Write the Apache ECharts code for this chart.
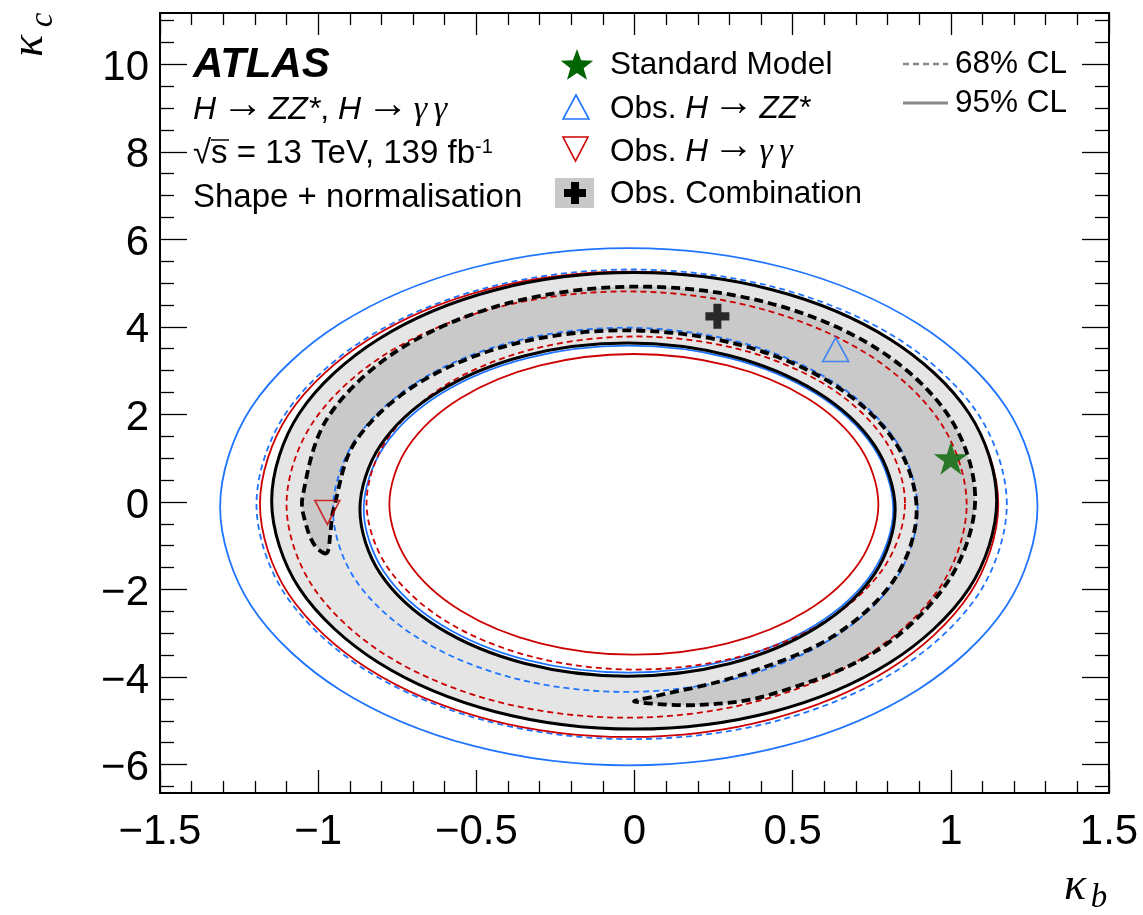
<!DOCTYPE html>
<html><head><meta charset="utf-8">
<script src="https://cdn.jsdelivr.net/npm/echarts@6/dist/echarts.min.js"></script>
<style>html,body{margin:0;padding:0;background:#fff}#c{width:1143px;height:915px}</style>
</head><body><div id="c"></div>
<script>
// ---------- axis ticks ----------
const xTicks = [-1.5, -1, -0.5, 0, 0.5, 1, 1.5];
const yTicks = [-6, -4, -2, 0, 2, 4, 6, 8, 10];
const yMinorTicks = [-6.5,-5.5,-5,-4.5,-3.5,-3,-2.5,-1.5,-1,-0.5,0.5,1,1.5,2.5,3,3.5,4.5,5,5.5,6.5,7,7.5,8.5,9,9.5,10.5,11];

// ---------- best-fit points ----------
const smPoint   = [1.0, 1.0];
const zzBest    = [0.636, 3.48];
const yyBest    = [-0.971, -0.24];
const combBest  = [0.262, 4.24];

// ---------- H->ZZ* contours (blue), [kappa_b, kappa_c] ----------
const zz95Outer = [[1.274,-0.110],[1.176,2.152],[0.896,4.069],[0.476,5.350],[-0.018,5.800],[-0.512,5.350],[-0.932,4.069],[-1.212,2.152],[-1.310,-0.110],[-1.212,-2.372],[-0.932,-4.289],[-0.512,-5.570],[-0.018,-6.020],[0.476,-5.570],[0.896,-4.289],[1.176,-2.372]];
const zz95Inner = [[0.818,-0.165],[0.754,1.264],[0.573,2.476],[0.301,3.286],[-0.019,3.570],[-0.339,3.286],[-0.611,2.476],[-0.792,1.264],[-0.856,-0.165],[-0.792,-1.594],[-0.611,-2.806],[-0.339,-3.616],[-0.019,-3.900],[0.301,-3.616],[0.573,-2.806],[0.754,-1.594]];
const zz68Outer = [[1.177,-0.055],[1.087,1.998],[0.830,3.739],[0.445,4.902],[-0.009,5.310],[-0.463,4.902],[-0.848,3.739],[-1.105,1.998],[-1.195,-0.055],[-1.105,-2.108],[-0.848,-3.849],[-0.463,-5.012],[-0.009,-5.420],[0.445,-5.012],[0.830,-3.849],[1.087,-2.108]];
const zz68Inner = [[0.895,-0.180],[0.825,1.412],[0.624,2.762],[0.325,3.663],[-0.029,3.980],[-0.383,3.663],[-0.682,2.762],[-0.883,1.412],[-0.953,-0.180],[-0.883,-1.772],[-0.682,-3.122],[-0.383,-4.023],[-0.029,-4.340],[0.325,-4.023],[0.624,-3.122],[0.825,-1.772]];

// ---------- H->gamma gamma contours (red) ----------
const yy95Outer = [[1.150,-0.055],[1.061,1.979],[0.808,3.703],[0.430,4.856],[-0.017,5.260],[-0.464,4.856],[-0.842,3.703],[-1.095,1.979],[-1.184,-0.055],[-1.095,-2.089],[-0.842,-3.813],[-0.464,-4.966],[-0.017,-5.370],[0.430,-4.966],[0.808,-3.813],[1.061,-2.089]];
const yy95Inner = [[0.771,-0.055],[0.712,1.260],[0.545,2.374],[0.294,3.119],[-0.002,3.380],[-0.298,3.119],[-0.549,2.374],[-0.716,1.260],[-0.775,-0.055],[-0.716,-1.370],[-0.549,-2.484],[-0.298,-3.229],[-0.002,-3.490],[0.294,-3.229],[0.545,-2.484],[0.712,-1.370]];
const yy68Outer = [[1.050,-0.060],[0.968,1.804],[0.735,3.384],[0.386,4.439],[-0.025,4.810],[-0.436,4.439],[-0.785,3.384],[-1.018,1.804],[-1.100,-0.060],[-1.018,-1.924],[-0.785,-3.504],[-0.436,-4.559],[-0.025,-4.930],[0.386,-4.559],[0.735,-3.504],[0.968,-1.924]];
const yy68Inner = [[0.855,-0.025],[0.790,1.431],[0.606,2.666],[0.330,3.490],[0.004,3.780],[-0.322,3.490],[-0.598,2.666],[-0.782,1.431],[-0.847,-0.025],[-0.782,-1.481],[-0.598,-2.716],[-0.322,-3.540],[0.004,-3.830],[0.330,-3.540],[0.606,-2.716],[0.790,-1.481]];

// ---------- combination contours (black) ----------
const comb95Outer = [[1.145,0.025],[1.058,2.021],[0.809,3.713],[0.438,4.843],[-0.001,5.240],[-0.440,4.843],[-0.811,3.713],[-1.060,2.021],[-1.147,0.025],[-1.060,-1.971],[-0.811,-3.663],[-0.440,-4.793],[-0.001,-5.190],[0.438,-4.793],[0.809,-3.663],[1.058,-1.971]];
const comb95Inner = [[0.824,-0.175],[0.760,1.281],[0.576,2.516],[0.302,3.340],[-0.022,3.630],[-0.346,3.340],[-0.620,2.516],[-0.804,1.281],[-0.868,-0.175],[-0.804,-1.631],[-0.620,-2.866],[-0.346,-3.690],[-0.022,-3.980],[0.302,-3.690],[0.576,-2.866],[0.760,-1.631]];
const comb68 = [[-0.973,-1.170],[-1.008,-1.020],[-1.036,-0.580],[-1.050,0.085],[-0.969,1.935],[-0.739,3.504],[-0.394,4.552],[0.014,4.920],[0.421,4.552],[0.766,3.504],[0.996,1.935],[1.077,0.085],[0.996,-1.765],[0.766,-3.400],[0.421,-4.420],[0.200,-4.640],[0.000,-4.560],[0.060,-4.450],[0.323,-3.987],[0.622,-3.096],[0.822,-1.763],[0.892,-0.190],[0.822,1.383],[0.622,2.716],[0.323,3.607],[-0.030,3.920],[-0.383,3.607],[-0.682,2.716],[-0.882,1.383],[-0.952,-0.190],[-0.962,-0.750]];

// ---------- styling ----------
const BLUE = '#1f74ff', RED = '#cc0000', GREEN = '#006400';
const LIGHT = '#e5e5e5', DARK = '#c9c9c9';
const FONT = '"Liberation Sans", Arial, Helvetica, sans-serif';
const SERIF = '"Liberation Serif", "DejaVu Serif", serif';
const fmt = v => String(v).replace('-', '\u2212');

function curve(name, pts, opt) {
  return {
    type: 'custom', name, coordinateSystem: 'cartesian2d', xAxisIndex: 0, yAxisIndex: 0,
    data: [[0, 0]], z: opt.z, silent: true, clip: true, animation: false,
    renderItem: (params, api) => {
      const style = { fill: opt.fill || 'none', stroke: opt.stroke || 'none', lineWidth: opt.width || 0 };
      if (opt.dash) style.lineDash = opt.dash;
      return { type: 'polygon', shape: { points: pts.map(p => api.coord(p)), smooth: opt.smooth == null ? 0.33 : opt.smooth }, style };
    }
  };
}

const STAR = 'path://M50,0 L61.2,34.5 L97.6,34.5 L68.2,55.9 L79.4,90.5 L50,69.1 L20.6,90.5 L31.8,55.9 L2.4,34.5 L38.8,34.5 Z';
const PLUS = 'path://M8,0 L16,0 L16,8 L24,8 L24,16 L16,16 L16,24 L8,24 L8,16 L0,16 L0,8 L8,8 Z';

function starPts(cx, cy, R, r) {
  const p = [];
  for (let i = 0; i < 10; i++) {
    const a = -Math.PI / 2 + i * Math.PI / 5, rr = i % 2 ? r : R;
    p.push([cx + rr * Math.cos(a), cy + rr * Math.sin(a)]);
  }
  return p;
}
function plusPts(cx, cy, s, t) {
  const h = s / 2, k = t / 2;
  return [[cx-k,cy-h],[cx+k,cy-h],[cx+k,cy-k],[cx+h,cy-k],[cx+h,cy+k],[cx+k,cy+k],[cx+k,cy+h],[cx-k,cy+h],[cx-k,cy+k],[cx-h,cy+k],[cx-h,cy-k],[cx-k,cy-k]];
}

const axisLine = { show: true, onZero: false, lineStyle: { color: '#000', width: 2 } };
const noLine = { show: false, onZero: false };
const tickStyle = { color: '#000', width: 1.3 };
const yMin = -6.65, yMax = 11.17;

function richSet(fs) {
  return {
    n: { fontSize: fs, fontFamily: FONT, fill: '#000' },
    p: { fontSize: Math.round(fs * 0.6), fontFamily: FONT, fill: '#000' },
    i: { fontSize: fs, fontFamily: FONT, fontStyle: 'italic', fill: '#000' },
    a: { fontSize: Math.round(fs * 1.3), fontFamily: FONT, fill: '#000', padding: [0, 0, 10, 0] },
    g: { fontSize: fs + 2, fontFamily: SERIF, fontStyle: 'italic', fill: '#000' },
    s: { fontSize: Math.round(fs * 0.62), fontFamily: FONT, fill: '#000', verticalAlign: 'top' }
  };
}
const text = (x, y, t, fs) => ({ type: 'text', x, y, z: 100, style: { text: t, fontSize: fs, fontFamily: FONT, fill: '#000', verticalAlign: 'middle', align: 'left', rich: richSet(fs) } });

const option = {
  animation: false,
  backgroundColor: '#fff',
  grid: { left: 160, right: 34, top: 13, bottom: 122, show: true, borderColor: '#000', borderWidth: 2, backgroundColor: 'transparent' },
  xAxis: [
    { type: 'value', position: 'bottom', min: -1.5, max: 1.5, interval: 0.5, axisLine,
      axisTick: { inside: true, length: 23, lineStyle: tickStyle },
      minorTick: { show: true, splitNumber: 5, length: 12, lineStyle: tickStyle },
      splitLine: { show: false }, minorSplitLine: { show: false },
      axisLabel: { fontSize: 42, color: '#000', fontFamily: FONT, margin: 18, showMinLabel: true, showMaxLabel: true, formatter: fmt } },
    { type: 'value', position: 'top', min: -1.5, max: 1.5, interval: 0.5, axisLine,
      axisTick: { inside: true, length: 22, lineStyle: tickStyle },
      minorTick: { show: true, splitNumber: 5, length: 12, lineStyle: tickStyle },
      splitLine: { show: false }, minorSplitLine: { show: false }, axisLabel: { show: false } }
  ],
  yAxis: [
    { type: 'value', position: 'left', min: yMin, max: yMax, axisLine,
      axisTick: { inside: true, length: 27, lineStyle: tickStyle, customValues: yTicks },
      splitLine: { show: false },
      axisLabel: { color: '#000', margin: 11, customValues: yTicks,
        formatter: v => '{v|' + fmt(v) + '}',
        rich: { v: { fontSize: 42, fontFamily: FONT, color: '#000', padding: [8, 0, 0, 0] } } } },
    { type: 'value', position: 'right', min: yMin, max: yMax, axisLine,
      axisTick: { inside: true, length: 27, lineStyle: tickStyle, customValues: yTicks },
      splitLine: { show: false }, axisLabel: { show: false } },
    { type: 'value', position: 'left', min: yMin, max: yMax, axisLine: noLine,
      axisTick: { inside: true, length: 14, lineStyle: tickStyle, customValues: yMinorTicks },
      splitLine: { show: false }, axisLabel: { show: false } },
    { type: 'value', position: 'right', min: yMin, max: yMax, axisLine: noLine,
      axisTick: { inside: true, length: 14, lineStyle: tickStyle, customValues: yMinorTicks },
      splitLine: { show: false }, axisLabel: { show: false } }
  ],
  series: [
    curve('fill95', comb95Outer, { fill: LIGHT, z: 1 }),
    curve('hole95', comb95Inner, { fill: '#fff', z: 2 }),
    curve('fill68', comb68, { fill: DARK, z: 3 }),
    curve('ZZ 95 outer', zz95Outer, { stroke: BLUE, width: 1.8, z: 5 }),
    curve('ZZ 95 inner', zz95Inner, { stroke: BLUE, width: 1.8, z: 5 }),
    curve('ZZ 68 outer', zz68Outer, { stroke: BLUE, width: 1.8, dash: [6, 4], z: 5 }),
    curve('ZZ 68 inner', zz68Inner, { stroke: BLUE, width: 1.8, dash: [6, 4], z: 5 }),
    curve('yy 95 outer', yy95Outer, { stroke: RED, width: 1.8, z: 6 }),
    curve('yy 95 inner', yy95Inner, { stroke: RED, width: 1.8, z: 6 }),
    curve('yy 68 outer', yy68Outer, { stroke: RED, width: 1.8, dash: [6, 4], z: 6 }),
    curve('yy 68 inner', yy68Inner, { stroke: RED, width: 1.8, dash: [6, 4], z: 6 }),
    curve('comb 95 outer', comb95Outer, { stroke: '#000', width: 3, z: 7 }),
    curve('comb 95 inner', comb95Inner, { stroke: '#000', width: 3, z: 7 }),
    curve('comb 68', comb68, { stroke: '#000', width: 3.8, dash: [9, 5], z: 8 }),
    { type: 'scatter', name: 'Obs. Combination', data: [combBest], symbol: PLUS, symbolSize: [24, 25], itemStyle: { color: '#000' }, z: 20, silent: true },
    { type: 'scatter', name: 'Obs. H->ZZ', data: [zzBest], symbol: 'triangle', symbolSize: [26, 24], itemStyle: { color: 'rgba(0,0,0,0)', borderColor: BLUE, borderWidth: 1.6 }, z: 20, silent: true },
    { type: 'scatter', name: 'Obs. H->yy', data: [yyBest], symbol: 'triangle', symbolRotate: 180, symbolSize: [25, 24], itemStyle: { color: 'rgba(0,0,0,0)', borderColor: RED, borderWidth: 1.6 }, z: 20, silent: true },
    { type: 'scatter', name: 'Standard Model', data: [smPoint], symbol: STAR, symbolSize: [34, 33], itemStyle: { color: GREEN }, z: 21, silent: true }
  ],
  graphic: [
    // top-left labels
    { type: 'text', x: 193, y: 65, z: 100, style: { text: 'ATLAS', fontSize: 42, fontWeight: 'bold', fontStyle: 'italic', fontFamily: FONT, fill: '#000', verticalAlign: 'middle' } },
    text(193, 110, '{i|H}{p| }{a|\u2192}{p| }{i|ZZ*}{n|, }{i|H}{p| }{a|\u2192}{p| }{g|\u03b3\u2009\u03b3}', 32),
    text(193, 154, '{n|\u221as = 13 TeV, 139 fb}{s|-1}', 33),
    { type: 'line', z: 100, shape: { x1: 211, y1: 140, x2: 229, y2: 140 }, style: { stroke: '#000', lineWidth: 1.5 } },
    text(193, 198, 'Shape + normalisation', 33),
    // legend
    { type: 'polygon', z: 100, shape: { points: starPts(577, 66, 17, 7) }, style: { fill: GREEN } },
    text(610, 65, 'Standard Model', 31.5),
    { type: 'polygon', z: 100, shape: { points: [[563, 119], [589, 119], [576, 95]] }, style: { fill: 'none', stroke: BLUE, lineWidth: 1.6 } },
    text(610, 109, '{n|Obs. }{i|H}{p| }{a|\u2192}{p| }{i|ZZ*}', 31.5),
    { type: 'polygon', z: 100, shape: { points: [[563, 137], [588, 137], [575.5, 161]] }, style: { fill: 'none', stroke: RED, lineWidth: 1.6 } },
    text(610, 152, '{n|Obs. }{i|H}{p| }{a|\u2192}{p| }{g|\u03b3\u2009\u03b3}', 31.5),
    { type: 'rect', z: 100, shape: { x: 555, y: 178, width: 39, height: 30 }, style: { fill: '#c8c8c8' } },
    { type: 'polygon', z: 101, shape: { points: plusPts(575, 193, 22, 8) }, style: { fill: '#000' } },
    text(610, 194, 'Obs. Combination', 31.5),
    { type: 'line', z: 100, shape: { x1: 903, y1: 64, x2: 948, y2: 64 }, style: { stroke: '#888', lineWidth: 2.5, lineDash: [6, 4] } },
    text(955, 64, '68% CL', 31.5),
    { type: 'line', z: 100, shape: { x1: 903, y1: 103, x2: 948, y2: 103 }, style: { stroke: '#888', lineWidth: 3 } },
    text(955, 103, '95% CL', 31.5),
    // axis titles
    { type: 'text', x: 30, y: 46, rotation: Math.PI / 2, z: 100, style: { text: '\u03ba', fontSize: 46, fontStyle: 'italic', fontFamily: SERIF, fill: '#000', align: 'center', verticalAlign: 'middle' } },
    { type: 'text', x: 43, y: 20, rotation: Math.PI / 2, z: 100, style: { text: 'c', fontSize: 33, fontStyle: 'italic', fontFamily: SERIF, fill: '#000', align: 'center', verticalAlign: 'middle' } },
    { type: 'text', x: 1075, y: 887, z: 100, style: { text: '\u03ba', fontSize: 46, fontStyle: 'italic', fontFamily: SERIF, fill: '#000', align: 'center', verticalAlign: 'middle' } },
    { type: 'text', x: 1099, y: 898, z: 100, style: { text: 'b', fontSize: 33, fontStyle: 'italic', fontFamily: SERIF, fill: '#000', align: 'center', verticalAlign: 'middle' } }
  ]
};

const chart = echarts.init(document.getElementById('c'), null, { renderer: 'canvas' });
chart.setOption(option);
</script></body></html>
